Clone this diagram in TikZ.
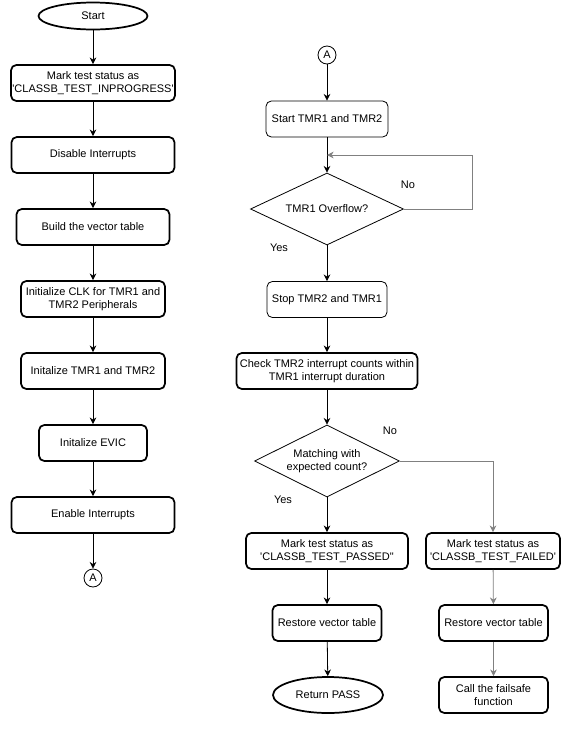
\documentclass[tikz,border=0pt]{standalone}
\usepackage{fontspec}
\setmainfont{Liberation Sans}
\usepackage{xcolor}
\usepackage{tikz}
\usetikzlibrary{arrows.meta,positioning,shapes.geometric}
\definecolor{linegray}{HTML}{808080}
\tikzset{
  procbox/.style={draw, line width=1.3pt, rounded corners=4pt, align=center,
                  minimum height=27pt, inner sep=1pt},
  thinbox/.style={procbox, line width=0.6pt},
  terminal/.style={draw, ellipse, line width=1.3pt, minimum width=81.75pt,
                   minimum height=20.25pt, inner sep=0pt},
  decision/.style={draw, diamond, line width=0.6pt, minimum height=54pt,
                   inner sep=0pt, align=center},
  offpage/.style={draw, circle, line width=0.6pt, minimum size=13.5pt, inner sep=0pt},
  flow/.style={-{Stealth[length=5pt,width=5pt]}, line width=0.6pt},
  grayflow/.style={flow, draw=linegray},
  lbl/.style={inner sep=0pt}
}

\begin{document}
\begin{tikzpicture}[x=0.75pt, y=-0.75pt, font=\fontsize{8.25}{10}\selectfont]
        \useasboundingbox (0,0) rectangle (581,729);

        % left column: setup
        \node[terminal] (start) at (93,16) {Start};
        \node[procbox, minimum width=122.25pt] (mark) at (93,83)
            {Mark test status as\\\textquotesingle CLASSB\_TEST\_INPROGRESS\textquotesingle};
        \node[procbox, minimum width=122.25pt] (disable) at (93,155) {Disable Interrupts};
        \node[procbox, minimum width=114.75pt] (build) at (93,227) {Build the vector table};
        \node[procbox, minimum width=108pt] (clk) at (93,299)
            {Initialize CLK for TMR1 and\\TMR2 Peripherals};
        \node[procbox, minimum width=108pt] (inittmr) at (93,371) {Initalize TMR1 and TMR2};
        \node[procbox, minimum width=81pt] (evic) at (93,443) {Initalize EVIC};
        \node[procbox, minimum width=122.25pt] (enable) at (93,515) {Enable Interrupts};
        \node[offpage] (conA) at (93,578) {A};

        \draw[flow] (start) -- (mark);
        \draw[flow] (mark) -- (disable);
        \draw[flow] (disable) -- (build);
        \draw[flow] (build) -- (clk);
        \draw[flow] (clk) -- (inittmr);
        \draw[flow] (inittmr) -- (evic);
        \draw[flow] (evic) -- (enable);
        \draw[flow] (enable) -- (conA);

        % right column: timer test
        \node[offpage] (conB) at (327,55) {A};
        \node[thinbox, minimum width=91.5pt] (tstart) at (327,119) {Start TMR1 and TMR2};
        \coordinate (merge) at (327,155);
        \node[decision, minimum width=114.75pt, aspect=2.125] (ovf) at (327,209) {TMR1 Overflow?};
        \node[thinbox, minimum width=90pt] (tstop) at (327,299.5) {Stop TMR2 and TMR1};
        \node[procbox, minimum width=135.75pt] (check) at (327,371)
            {Check TMR2 interrupt counts within\\TMR1 interrupt duration};
        \node[decision, minimum width=108.75pt, aspect=2] (match) at (327,461)
            {Matching with\\expected count?};
        \node[procbox, minimum width=121.5pt] (passed) at (327,551)
            {Mark test status as\\\textquotesingle CLASSB\_TEST\_PASSED\textquotedbl};
        \node[procbox, minimum width=100.5pt] (failed) at (493,551)
            {Mark test status as\\\textquotesingle CLASSB\_TEST\_FAILED\textquotesingle};
        \node[procbox, minimum width=81.75pt] (restoreP) at (327,623) {Restore vector table};
        \node[procbox, minimum width=81.75pt] (restoreF) at (493.5,623) {Restore vector table};
        \node[terminal, minimum width=82.5pt, minimum height=27pt] (pass) at (328,695) {Return PASS};
        \node[procbox, minimum width=81.75pt] (failsafe) at (493.5,695)
            {Call the failsafe\\function};

        \node[lbl] (no1) at (408,185) {No};
        \node[lbl] (yes1) at (279,248) {Yes};
        \node[lbl] (no2) at (390,431) {No};
        \node[lbl] (yes2) at (283,500) {Yes};

        \draw[flow] (conB) -- (tstart);
        \draw[flow] (tstart) -- (ovf);
        \draw[grayflow] (ovf.east) -- ++(68,0) |- (merge);
        \draw[flow] (ovf) -- (tstop);
        \draw[flow] (tstop) -- (check);
        \draw[flow] (check) -- (match);
        \draw[flow] (match) -- (passed);
        \draw[grayflow] (match.east) -| (failed.north);
        \draw[flow] (passed) -- (restoreP);
        \draw[flow] (restoreP) -- (pass);
        \draw[grayflow] (failed) -- (restoreF);
        \draw[grayflow] (restoreF) -- (failsafe);
    \end{tikzpicture}
\end{document}
